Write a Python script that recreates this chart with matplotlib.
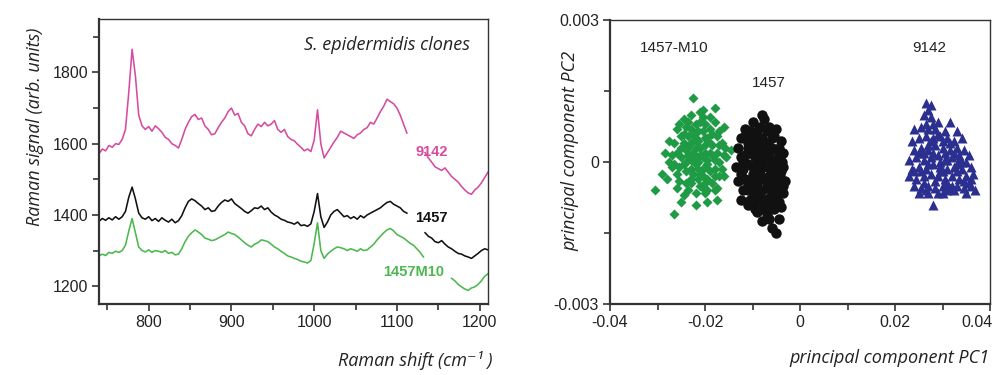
import numpy as np
import matplotlib
matplotlib.use("Agg")
import matplotlib.pyplot as plt
import matplotlib.transforms as mtrans
from matplotlib.ticker import MultipleLocator

# ---------------- Data: Raman spectra ----------------
start_a, step = 740, 4
pink_1 = [1572,1585,1580,1595,1590,1600,1598,1612,1640,1745,1865,1790,1680,1650,1640,1648,
          1635,1650,1642,1632,1618,1612,1600,1595,1588,1612,1640,1660,1676,1682,1668,1672,
          1650,1640,1625,1628,1645,1660,1672,1690,1700,1680,1685,1660,1650,1628,1622,1640,
          1655,1648,1660,1650,1655,1665,1640,1632,1640,1620,1612,1608,1598,1590,1580,1585,
          1578,1610,1695,1600,1560,1575,1590,1605,1618,1635,1630,1625,1620,1615,1625,1630,
          1640,1645,1660,1655,1672,1690,1705,1725,1718,1712,1700,1680,1655,1630]
pink_2 = [1575,1560,1548,1535,1530,1525,1532,1520,1508,1500,1492,1480,1470,1462,1458,1470,
          1478,1490,1505,1520]
black_1 = [1382,1390,1385,1392,1386,1395,1388,1395,1410,1450,1478,1445,1405,1392,1388,1395,
           1384,1390,1382,1392,1385,1380,1388,1378,1384,1398,1420,1438,1445,1440,1432,1425,
           1415,1420,1410,1412,1425,1435,1442,1438,1445,1432,1425,1418,1410,1405,1412,1420,
           1418,1425,1415,1420,1408,1400,1395,1388,1385,1380,1378,1374,1380,1370,1372,1368,
           1375,1410,1460,1395,1365,1380,1400,1410,1415,1405,1395,1398,1390,1395,1388,1398,
           1392,1400,1405,1410,1415,1420,1428,1435,1438,1430,1425,1420,1410,1405]
black_2 = [1350,1340,1335,1325,1322,1328,1318,1310,1305,1298,1292,1290,1285,1282,1278,1285,
           1292,1300,1305,1302]
green_1 = [1285,1290,1286,1295,1292,1298,1295,1300,1315,1355,1390,1350,1310,1300,1296,1302,
           1295,1300,1298,1295,1300,1292,1295,1288,1290,1305,1325,1340,1350,1358,1352,1345,
           1335,1332,1328,1330,1335,1340,1345,1352,1348,1345,1338,1330,1322,1315,1310,1318,
           1322,1330,1328,1325,1318,1310,1305,1298,1292,1285,1282,1278,1275,1270,1268,1265,
           1272,1320,1378,1300,1278,1290,1298,1305,1310,1308,1305,1300,1305,1302,1298,1305,
           1300,1302,1310,1318,1330,1340,1350,1358,1362,1355,1345,1340,1335,1328,1320,1315,
           1305,1295,1282]
green_2 = [1222,1215,1205,1198,1192,1188,1195,1198,1205,1215,1228,1235]
start_pink_2, start_black_2, start_green_2 = 1134, 1134, 1166

# ---------------- Data: PCA scores (PC1 x1e-3, PC2 x1e-4) ----------------
m10_pc = [(-30.5,-6.0),(-29.0,-2.5),(-26.5,-11.0),(-25.0,-8.5),(-22.0,-9.0),(-19.5,-8.5),
          (-17.5,-8.0),(-20.0,-6.5),(-23.5,-6.0),(-27.5,4.5),(-28.5,2.0),(-26.0,7.0),
          (-22.5,13.5),(-23.0,10.0),(-20.5,11.0),(-18.0,11.5),(-16.0,7.5),(-14.5,2.5),
          (-15.5,1.0),(-16.5,-1.5),(-27.0,-1.0),(-28.0,-3.5),(-25.5,-4.0),(-24.5,-7.0),
          (-21.0,-5.0),(-18.5,-4.5),(-17.0,-3.0),(-25.0,1.0),(-24.0,2.5),(-23.0,0.5),
          (-22.0,3.0),(-21.0,1.5),(-20.0,3.5),(-19.0,2.0),(-18.0,0.5),(-24.5,4.0),
          (-23.5,5.5),(-22.5,6.0),(-21.5,4.5),(-20.5,6.5),(-19.5,5.0),(-18.5,3.5),
          (-17.5,2.0),(-25.5,-1.0),(-24.0,-2.0),(-23.0,-1.5),(-22.0,-0.5),(-21.0,-2.5),
          (-20.0,-1.0),(-19.0,-2.0),(-18.0,-1.5),(-17.0,0.0),(-26.0,2.0),(-26.5,-0.5),
          (-24.0,7.5),(-22.0,8.0),(-21.0,8.5),(-20.0,8.0),(-19.0,7.0),(-23.0,-3.5),
          (-21.5,-3.5),(-20.5,-3.0),(-19.5,-3.5),(-22.5,2.0),(-21.5,0.0),(-20.5,1.0),
          (-19.5,0.5),(-23.5,3.0),(-24.5,-0.5),(-25.0,5.5),(-16.5,4.0),(-17.5,5.5),
          (-18.0,8.5),(-22.0,-6.5),(-24.0,-4.5),(-26.0,-2.5),(-21.0,10.5),(-24.5,9.0),
          (-19.0,9.5),(-20.0,-4.5),(-18.0,-6.0),(-23.0,7.0),(-27.0,1.5),(-16.0,-3.0),
          (-26.5,4.0),(-15.8,3.0),(-17.0,6.5),(-22.5,4.5),(-20.5,-1.5),(-23.5,1.5),
          (-24.0,0.0),(-22.5,-2.5),(-21.0,3.0),(-19.5,-0.5),(-18.5,1.5),(-22.0,5.0),
          (-20.0,5.0),(-23.0,4.0),(-25.0,3.0),(-21.5,6.5),(-19.0,4.0),(-17.0,3.5),
          (-18.0,-3.0),(-20.5,-5.5),(-23.0,-4.5),(-24.5,6.0),(-21.5,-1.5),(-20.0,2.0),
          (-22.0,1.0),(-18.5,6.0),(-26.0,-5.5),(-27.5,0.0),(-16.0,1.5),(-19.5,-6.0),
          (-17.5,-5.5),(-23.5,8.5),(-20.5,9.5),(-25.5,8.0)]
wt_pc = [(-13.0,3.0),(-12.5,5.0),(-11.5,7.0),(-10.0,8.5),(-8.5,7.5),(-7.0,6.5),(-5.5,5.5),
         (-4.0,4.5),(-3.5,2.0),(-3.5,-1.0),(-3.2,-4.0),(-3.5,-6.5),(-4.5,-8.5),(-5.5,-10.0),
         (-7.0,-11.0),(-9.0,-10.5),(-11.0,-9.0),(-12.5,-8.0),(-13.0,-4.0),(-13.5,-1.0),
         (-12.5,1.0),(-6.0,-14.0),(-5.0,-15.0),(-4.5,-12.0),(-8.0,-12.5),(-11.0,4.0),
         (-10.0,5.5),(-9.0,4.0),(-8.0,5.0),(-7.0,4.0),(-6.0,3.0),(-5.0,2.5),(-11.5,1.5),
         (-10.5,2.0),(-9.5,1.0),(-8.5,2.5),(-7.5,1.5),(-6.5,1.0),(-5.5,0.5),(-4.5,1.0),
         (-12.0,-1.5),(-11.0,-0.5),(-10.0,-1.0),(-9.0,-0.5),(-8.0,0.0),(-7.0,-1.0),
         (-6.0,-0.5),(-5.0,-1.5),(-4.0,-2.0),(-11.5,-3.5),(-10.5,-4.0),(-9.5,-3.0),
         (-8.5,-2.5),(-7.5,-3.5),(-6.5,-3.0),(-5.5,-3.5),(-4.5,-4.0),(-11.0,-6.0),
         (-10.0,-6.5),(-9.0,-5.5),(-8.0,-6.0),(-7.0,-5.5),(-6.0,-6.5),(-5.0,-6.0),
         (-4.0,-6.0),(-10.5,-8.0),(-9.5,-8.5),(-8.0,-8.5),(-7.0,-8.0),(-6.0,-9.0),
         (-5.0,-8.0),(-12.0,-6.0),(-12.5,-2.5),(-3.8,0.0),(-9.0,6.5),(-6.5,7.5),(-7.5,9.0),
         (-10.5,6.5),(-8.0,3.0),(-6.0,5.0),(-4.5,3.0),(-9.5,2.5),(-11.0,3.0),(-12.0,0.0),
         (-7.0,2.5),(-5.0,-0.5),(-8.5,-1.5),(-10.0,-2.5),(-6.0,-2.0),(-4.2,-3.0),
         (-7.0,-4.5),(-9.0,-4.5),(-11.0,-5.0),(-5.5,-5.0),(-8.5,-7.0),(-6.5,-7.5),
         (-10.0,-7.5),(-4.8,-7.0),(-7.5,-10.0),(-9.5,-10.0),(-6.5,-12.0),(-12.0,-3.5),
         (-3.6,-5.0),(-11.5,5.5),(-5.0,7.0),(-8.0,10.0),(-4.0,-9.5)]
s9142_pc = [(26.5,12.5),(27.5,12.0),(27.0,11.0),(26.0,10.0),(27.5,9.5),(29.0,8.5),(31.5,8.5),
            (24.0,7.0),(25.5,7.5),(28.5,7.0),(30.5,6.5),(33.0,6.5),(23.5,4.5),(25.0,5.0),
            (26.5,5.5),(28.0,5.0),(29.5,5.5),(31.0,5.0),(32.5,4.5),(34.0,5.0),(24.0,2.5),
            (25.5,3.0),(27.0,2.5),(28.5,3.5),(30.0,3.0),(31.5,2.5),(33.0,3.0),(34.5,2.5),
            (35.5,1.5),(23.0,0.5),(24.5,1.0),(26.0,0.5),(27.5,1.0),(29.0,1.5),(30.5,0.5),
            (32.0,1.0),(33.5,0.5),(35.0,0.0),(36.0,-1.0),(23.5,-1.5),(25.0,-1.0),(26.5,-1.5),
            (28.0,-0.5),(29.5,-1.0),(31.0,-1.5),(32.5,-1.0),(34.0,-1.5),(23.0,-3.0),
            (24.5,-3.5),(26.0,-3.0),(27.5,-2.5),(29.0,-3.0),(30.5,-3.5),(32.0,-3.0),
            (33.5,-3.5),(35.0,-3.0),(36.5,-2.5),(24.0,-5.0),(25.5,-5.5),(27.0,-5.0),
            (28.5,-5.5),(30.0,-5.0),(31.5,-5.5),(33.0,-5.0),(34.5,-5.5),(36.0,-5.0),
            (36.8,-6.0),(25.0,-6.5),(27.0,-6.5),(30.0,-6.5),(32.5,-6.0),(35.0,-6.5),
            (28.0,-9.0),(31.0,-6.0),(27.0,3.5),(29.5,-2.0),(31.5,4.0),(26.0,-4.5),(33.5,1.5),
            (26.5,8.0),(28.0,8.0),(29.0,6.0),(27.0,7.0),(30.0,4.5),(28.0,2.0),(26.0,2.0),
            (29.5,0.0),(31.0,0.5),(27.0,-0.5),(33.0,-2.0),(30.0,-2.0),(28.5,-4.0),
            (31.0,-4.5),(34.5,-4.0),(26.5,-6.0),(29.0,-6.5),(32.0,-5.0),(35.5,-4.5),
            (25.0,2.0),(32.5,2.0),(34.0,0.0),(24.0,-2.0),(27.5,4.5),(30.5,2.0),(33.0,-0.5),
            (36.0,-3.5),(25.5,-2.0)]

# ---------------- Style ----------------
PINK = "#d64b9f"
BLACK = "#111111"
LGREEN = "#4cb84f"
DGREEN = "#1f9a45"
NAVY = "#2b2f8f"
TICK_FONT = ["Liberation Sans", "DejaVu Sans"]
LABEL_FONT = ["Open Sans", "DejaVu Sans"]

fig = plt.figure(figsize=(9.98, 3.75), dpi=100)
ax1 = fig.add_axes([99/998, 71/375, 389/998, 285/375])
ax2 = fig.add_axes([610/998, 71/375, 380/998, 284/375])


def style_axes(ax):
    for side, sp in ax.spines.items():
        sp.set_color("#333333")
        sp.set_linewidth(1.6 if side in ("left", "bottom") else 1.0)
    ax.tick_params(which="both", direction="out", color="#333333", width=1.2,
                   labelsize=11.5, labelcolor="#222222", pad=3)
    ax.tick_params(which="major", length=5)
    ax.tick_params(which="minor", length=4)
    for lab in ax.get_xticklabels() + ax.get_yticklabels():
        lab.set_fontfamily(TICK_FONT)


# ---- left: spectra ----
def xs(start, vals):
    return start + step * np.arange(len(vals))

lw = 1.15
ax1.plot(xs(start_a, pink_1), pink_1, color=PINK, lw=lw)
ax1.plot(xs(start_pink_2, pink_2), pink_2, color=PINK, lw=lw)
ax1.plot(xs(start_a, black_1), black_1, color=BLACK, lw=lw)
ax1.plot(xs(start_black_2, black_2), black_2, color=BLACK, lw=lw)
ax1.plot(xs(start_a, green_1), green_1, color=LGREEN, lw=lw)
ax1.plot(xs(start_green_2, green_2), green_2, color=LGREEN, lw=lw)

ax1.set_xlim(740, 1210)
ax1.set_ylim(1150, 1950)
ax1.set_xticks([800, 900, 1000, 1100, 1200])
ax1.xaxis.set_minor_locator(MultipleLocator(50))
ax1.set_yticks([1200, 1400, 1600, 1800])
ax1.yaxis.set_minor_locator(MultipleLocator(100))
style_axes(ax1)

ax1.text(1188, 1876, "S. epidermidis clones", ha="right", va="center",
         fontsize=13, style="italic", family=LABEL_FONT, color="#222222")
ax1.text(1122, 1576, "9142", ha="left", va="center", fontsize=10.5,
         fontweight="bold", color=PINK, family=TICK_FONT)
ax1.text(1122, 1391, "1457", ha="left", va="center", fontsize=10.5,
         fontweight="bold", color=BLACK, family=TICK_FONT)
ax1.text(1083, 1239, "1457M10", ha="left", va="center", fontsize=10.5,
         fontweight="bold", color=LGREEN, family=TICK_FONT)

# ---- right: PCA ----
def split(pts):
    a = np.array(pts)
    return a[:, 0] * 1e-3, a[:, 1] * 1e-4

gx, gy = split(m10_pc)
bx, by = split(wt_pc)
nx, ny = split(s9142_pc)
ax2.plot(gx, gy, "D", color=DGREEN, ms=4.8, mec="none")
ax2.plot(bx, by, "o", color=BLACK, ms=7.5, mec="none")
ax2.plot(nx, ny, "^", color=NAVY, ms=6.8, mec="none")

ax2.set_xlim(-0.04, 0.04)
ax2.set_ylim(-0.003, 0.003)
ax2.set_xticks([-0.04, -0.02, 0, 0.02, 0.04])
ax2.set_xticklabels(["-0.04", "-0.02", "0", "0.02", "0.04"])
ax2.xaxis.set_minor_locator(MultipleLocator(0.01))
ax2.set_yticks([-0.003, 0, 0.003])
ax2.set_yticklabels(["-0.003", "0", "0.003"])
ax2.yaxis.set_minor_locator(MultipleLocator(0.0015))
style_axes(ax2)
last = ax2.get_xticklabels()[-1]
last.set_horizontalalignment("right")
last.set_transform(last.get_transform() +
                   mtrans.ScaledTranslation(3/100, 0, fig.dpi_scale_trans))

ax2.text(-0.0337, 0.00241, "1457-M10", ha="left", va="center", fontsize=11,
         color="#222222", family=TICK_FONT)
ax2.text(-0.0101, 0.00167, "1457", ha="left", va="center", fontsize=11,
         color="#222222", family=TICK_FONT)
ax2.text(0.0236, 0.00241, "9142", ha="left", va="center", fontsize=11,
         color="#222222", family=TICK_FONT)

# ---- axis titles ----
fig.text(35/998, 1 - 127/375, "Raman signal (arb. units)", rotation=90,
         ha="center", va="center", fontsize=13, style="italic",
         family=LABEL_FONT, color="#222222")
fig.text(492/998, 1 - 360/375, "Raman shift (cm\u207b\u00b9 )", ha="right",
         va="center", fontsize=13, style="italic", family=LABEL_FONT, color="#222222")
fig.text(570/998, 1 - 151/375, "principal component PC2", rotation=90,
         ha="center", va="center", fontsize=13, style="italic",
         family=LABEL_FONT, color="#222222")
fig.text(990/998, 1 - 358/375, "principal component PC1", ha="right",
         va="center", fontsize=13, style="italic", family=LABEL_FONT, color="#222222")

fig.savefig("out.png", dpi=100)
